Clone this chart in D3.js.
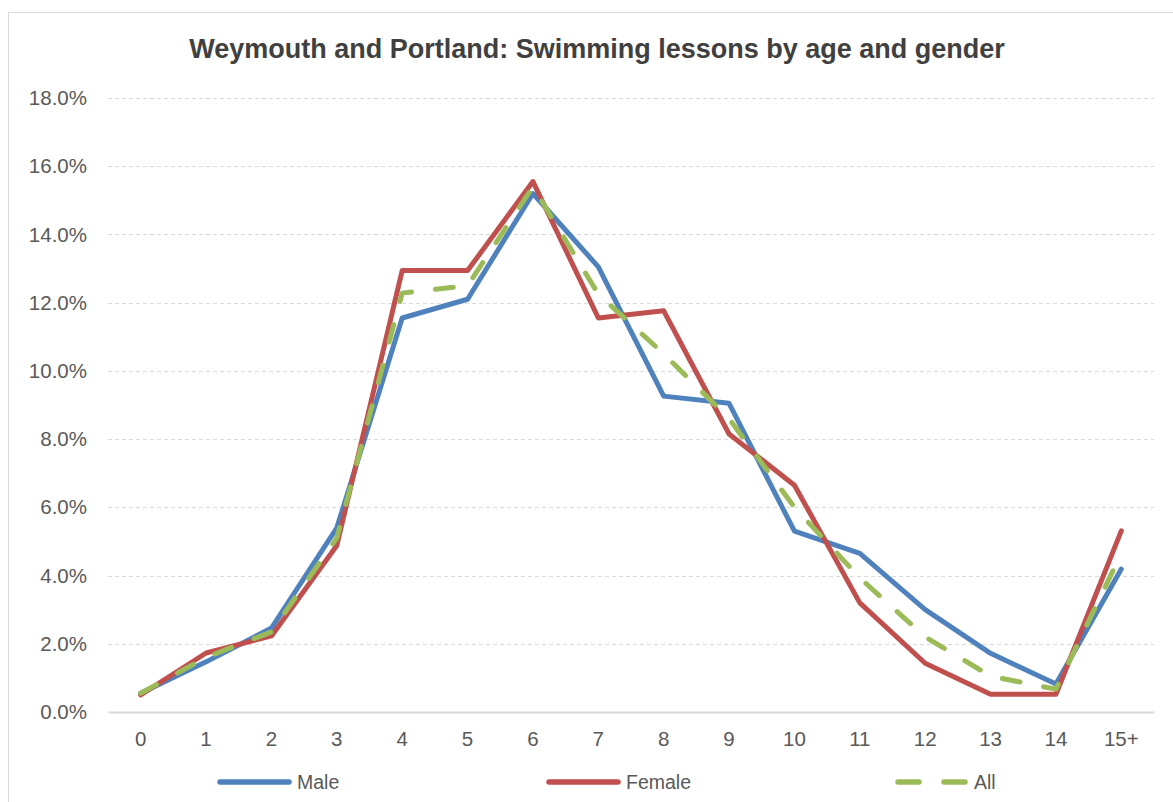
<!DOCTYPE html>
<html>
<head>
<meta charset="utf-8">
<script src="https://cdn.jsdelivr.net/npm/d3@7"></script>
<style>
  body { margin: 0; background: #fff; }
  text { font-family: "Liberation Sans", Arial, sans-serif; }
</style>
</head>
<body>
<div id="chart"></div>
<script>
// data (share of lessons, %)
var ages = ["0", "1", "2", "3", "4", "5", "6", "7", "8", "9", "10", "11", "12", "13", "14", "15+"];
var male = [0.55, 1.47, 2.46, 5.4, 11.55, 12.1, 15.2, 13.05, 9.26, 9.05, 5.3, 4.65, 3.0, 1.72, 0.82, 4.19];
var female = [0.5, 1.73, 2.23, 4.88, 12.94, 12.94, 15.55, 11.55, 11.76, 8.15, 6.65, 3.2, 1.43, 0.52, 0.52, 5.31];
var all = [0.55, 1.6, 2.35, 5.1, 12.28, 12.5, 15.4, 12.25, 10.5, 8.6, 6.0, 3.93, 2.2, 1.05, 0.67, 4.65];
var yTicks = [0, 2, 4, 6, 8, 10, 12, 14, 16, 18];
var title = "Weymouth and Portland: Swimming lessons by age and gender";

var width = 1173, height = 802;
var margin = {left: 108, right: 19, top: 98, bottom: 90};

var series = [
  {name: "Male", values: male, color: "#4f81bd", dash: null},
  {name: "Female", values: female, color: "#c0504d", dash: null},
  {name: "All", values: all, color: "#9bbb59", dash: "18,24"}
];

var svg = d3.select("#chart").append("svg")
  .attr("width", width)
  .attr("height", height);

// outer frame
svg.append("rect")
  .attr("x", 8.5).attr("y", 12.5)
  .attr("width", width - 8).attr("height", height - 11)
  .attr("fill", "#fff")
  .attr("stroke", "#d9d9d9");

var xScale = d3.scaleBand()
  .domain(ages)
  .range([margin.left, width - margin.right]);
var yScale = d3.scaleLinear()
  .domain([0, 18])
  .range([height - margin.bottom, margin.top]);

// gridlines
svg.append("g")
  .selectAll("line")
  .data(yTicks.filter(d => d > 0))
  .enter()
  .append("line")
  .attr("x1", margin.left).attr("x2", width - margin.right)
  .attr("y1", d => Math.round(yScale(d)) + 0.5)
  .attr("y2", d => Math.round(yScale(d)) + 0.5)
  .attr("stroke", "#d9d9d9")
  .attr("stroke-dasharray", "4,3");

// y axis labels
var yAxis = d3.axisLeft(yScale)
  .tickValues(yTicks)
  .tickFormat(d => d.toFixed(1) + "%")
  .tickSize(0)
  .tickPadding(21);
var gy = svg.append("g")
  .attr("transform", `translate(${margin.left}, 0)`)
  .call(yAxis);
gy.select(".domain").remove();
gy.selectAll("text")
  .attr("fill", "#595959")
  .style("font-size", "20.5px")
  .style("font-family", "'Liberation Sans', Arial, sans-serif");

// x axis
var xAxis = d3.axisBottom(xScale).tickSize(0).tickPadding(19);
var gx = svg.append("g")
  .attr("transform", `translate(0, ${yScale(0)})`)
  .call(xAxis);
gx.select(".domain").attr("stroke", "#d9d9d9").attr("stroke-width", 2);
gx.selectAll("text")
  .attr("fill", "#595959")
  .style("font-size", "20.5px")
  .style("font-family", "'Liberation Sans', Arial, sans-serif");

// lines
var line = d3.line()
  .x((d, i) => xScale(ages[i]) + xScale.bandwidth() / 2)
  .y(d => yScale(d));

svg.append("g")
  .selectAll("path")
  .data(series)
  .enter()
  .append("path")
  .attr("d", d => line(d.values))
  .attr("fill", "none")
  .attr("stroke", d => d.color)
  .attr("stroke-width", 5)
  .attr("stroke-linejoin", "round")
  .attr("stroke-linecap", "round")
  .attr("stroke-dasharray", d => d.dash);

// title
svg.append("text")
  .attr("x", 597)
  .attr("y", 58)
  .attr("text-anchor", "middle")
  .attr("fill", "#404040")
  .style("font-size", "27px")
  .style("font-weight", "bold")
  .text(title);

// legend
var legendX = [218, 547, 895];
var legend = svg.append("g")
  .selectAll("g")
  .data(series)
  .enter()
  .append("g")
  .attr("transform", (d, i) => `translate(${legendX[i]}, 782)`);
legend.append("line")
  .attr("x1", d => d.dash ? 3 : 2).attr("x2", 71)
  .attr("y1", 0).attr("y2", 0)
  .attr("stroke", d => d.color)
  .attr("stroke-width", 5.5)
  .attr("stroke-linecap", "round")
  .attr("stroke-dasharray", d => d.dash ? "21,25" : null);
legend.append("text")
  .attr("x", 79)
  .attr("y", 6.5)
  .attr("fill", "#595959")
  .style("font-size", "19.5px")
  .text(d => d.name);
</script>
</body>
</html>
